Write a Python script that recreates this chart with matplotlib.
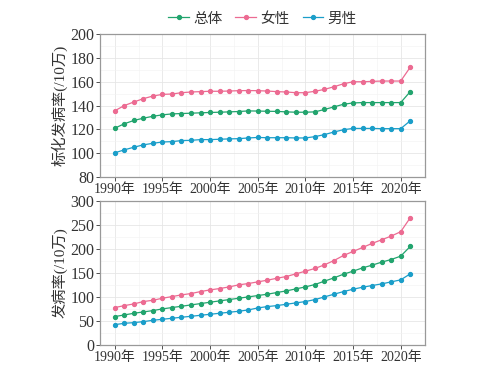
import matplotlib
matplotlib.use("Agg")
import matplotlib.pyplot as plt
import numpy as np

plt.rcParams['font.family'] = ['Liberation Serif', 'Noto Sans CJK SC']

years = np.arange(1990, 2022)
series_names = ['总体', '女性', '男性']
colors = ['#22a46e', '#ec6b92', '#1b9ec9']

# age-standardised incidence (per 100k)
asr_total = [121.0, 124.7, 127.5, 129.4, 131.0, 132.2, 133.0, 133.3, 133.6, 133.9,
             134.2, 134.4, 134.7, 135.0, 135.5, 135.4, 135.2, 135.1, 134.7, 134.4,
             134.4, 134.7, 136.7, 138.9, 141.1, 142.2, 142.5, 142.5, 142.5, 142.5,
             142.5, 151.7]
asr_female = [135.6, 140.0, 143.0, 145.8, 148.0, 149.4, 149.7, 150.8, 151.4, 151.7,
              152.0, 152.0, 152.2, 152.5, 152.6, 152.5, 152.2, 151.7, 151.4, 150.8,
              150.8, 152.0, 153.6, 155.8, 158.3, 160.0, 160.0, 160.3, 160.6, 160.6,
              160.6, 172.2]
asr_male = [100.3, 102.8, 105.0, 107.0, 108.3, 109.4, 109.7, 110.6, 110.8, 111.4,
            111.4, 111.7, 112.0, 112.2, 112.8, 113.2, 113.0, 113.0, 113.0, 112.8,
            112.8, 113.9, 115.6, 117.8, 119.7, 120.8, 120.8, 120.8, 120.6, 120.6,
            120.6, 127.2]

# crude incidence (per 100k)
cr_total = [59.2, 62.6, 66.1, 68.9, 71.7, 75.2, 78.0, 80.7, 83.5, 86.3,
            89.1, 91.9, 94.6, 97.4, 100.2, 103.0, 105.8, 109.3, 112.7, 116.9,
            121.0, 126.0, 133.0, 139.9, 147.5, 153.8, 160.7, 166.3, 172.6, 178.1,
            185.1, 205.3]
cr_female = [78.0, 82.0, 85.6, 90.5, 93.2, 97.4, 100.9, 104.4, 107.2, 111.3,
             114.8, 117.6, 121.0, 125.3, 128.0, 131.5, 135.0, 139.0, 142.7, 148.2,
             153.8, 159.4, 167.0, 176.0, 186.5, 194.8, 203.2, 211.6, 219.2, 226.9,
             236.0, 265.0]
cr_male = [42.4, 45.2, 46.6, 48.7, 51.5, 53.6, 55.7, 57.8, 59.8, 61.9,
           64.0, 66.1, 68.2, 70.3, 73.0, 77.2, 80.0, 82.1, 84.9, 87.7,
           90.5, 94.6, 100.2, 105.8, 111.3, 116.2, 120.4, 123.9, 127.3, 131.5,
           135.7, 148.2]

xticks = [1990, 1995, 2000, 2005, 2010, 2015, 2020]
xticklabels = [f'{y}年' for y in xticks]

fig = plt.figure(figsize=(5, 3.75), dpi=100)
ax1 = fig.add_axes([0.200, 0.528, 0.650, 0.381])
ax2 = fig.add_axes([0.200, 0.080, 0.650, 0.384])

panels = [
    (ax1, [asr_total, asr_female, asr_male], (80, 200), np.arange(80, 201, 20), '标化发病率(/10万)'),
    (ax2, [cr_total, cr_female, cr_male], (0, 300), np.arange(0, 301, 50), '发病率(/10万)'),
]

for ax, data, ylim, yticks, ylabel in panels:
    for vals, name, c in zip(data, series_names, colors):
        ax.plot(years, vals, color=c, lw=0.9, marker='o', ms=2.8, label=name)
    ax.set_xlim(1988.45, 2022.55)
    ax.set_ylim(*ylim)
    ax.set_yticks(yticks)
    step = yticks[1] - yticks[0]
    ax.set_yticks(np.arange(ylim[0] + step / 2, ylim[1], step), minor=True)
    ax.set_xticks(xticks)
    ax.set_xticklabels(xticklabels)
    ax.set_xticks(np.arange(1992.5, 2022, 5), minor=True)
    ax.grid(True, which='major', color='#e6e6e6', lw=0.6)
    ax.grid(True, which='minor', color='#f2f2f2', lw=0.4)
    ax.set_axisbelow(True)
    for s in ax.spines.values():
        s.set_color('#999999')
        s.set_linewidth(0.9)
    ax.tick_params(which='major', length=3, width=0.6, color='#333333',
                   labelsize=10, labelcolor='#333333', pad=1)
    ax.tick_params(axis='y', labelsize=11.5)
    ax.tick_params(which='minor', length=0)
    ax.set_ylabel(ylabel, fontsize=11, color='#333333', labelpad=2)

handles, labels = ax1.get_legend_handles_labels()
fig.legend(handles, labels, loc='center', bbox_to_anchor=(0.525, 0.950), ncol=3,
           frameon=False, fontsize=10.5, handlelength=1.4, handletextpad=0.3,
           columnspacing=0.9, labelcolor='#333333')

fig.savefig('out.png', dpi=100)
